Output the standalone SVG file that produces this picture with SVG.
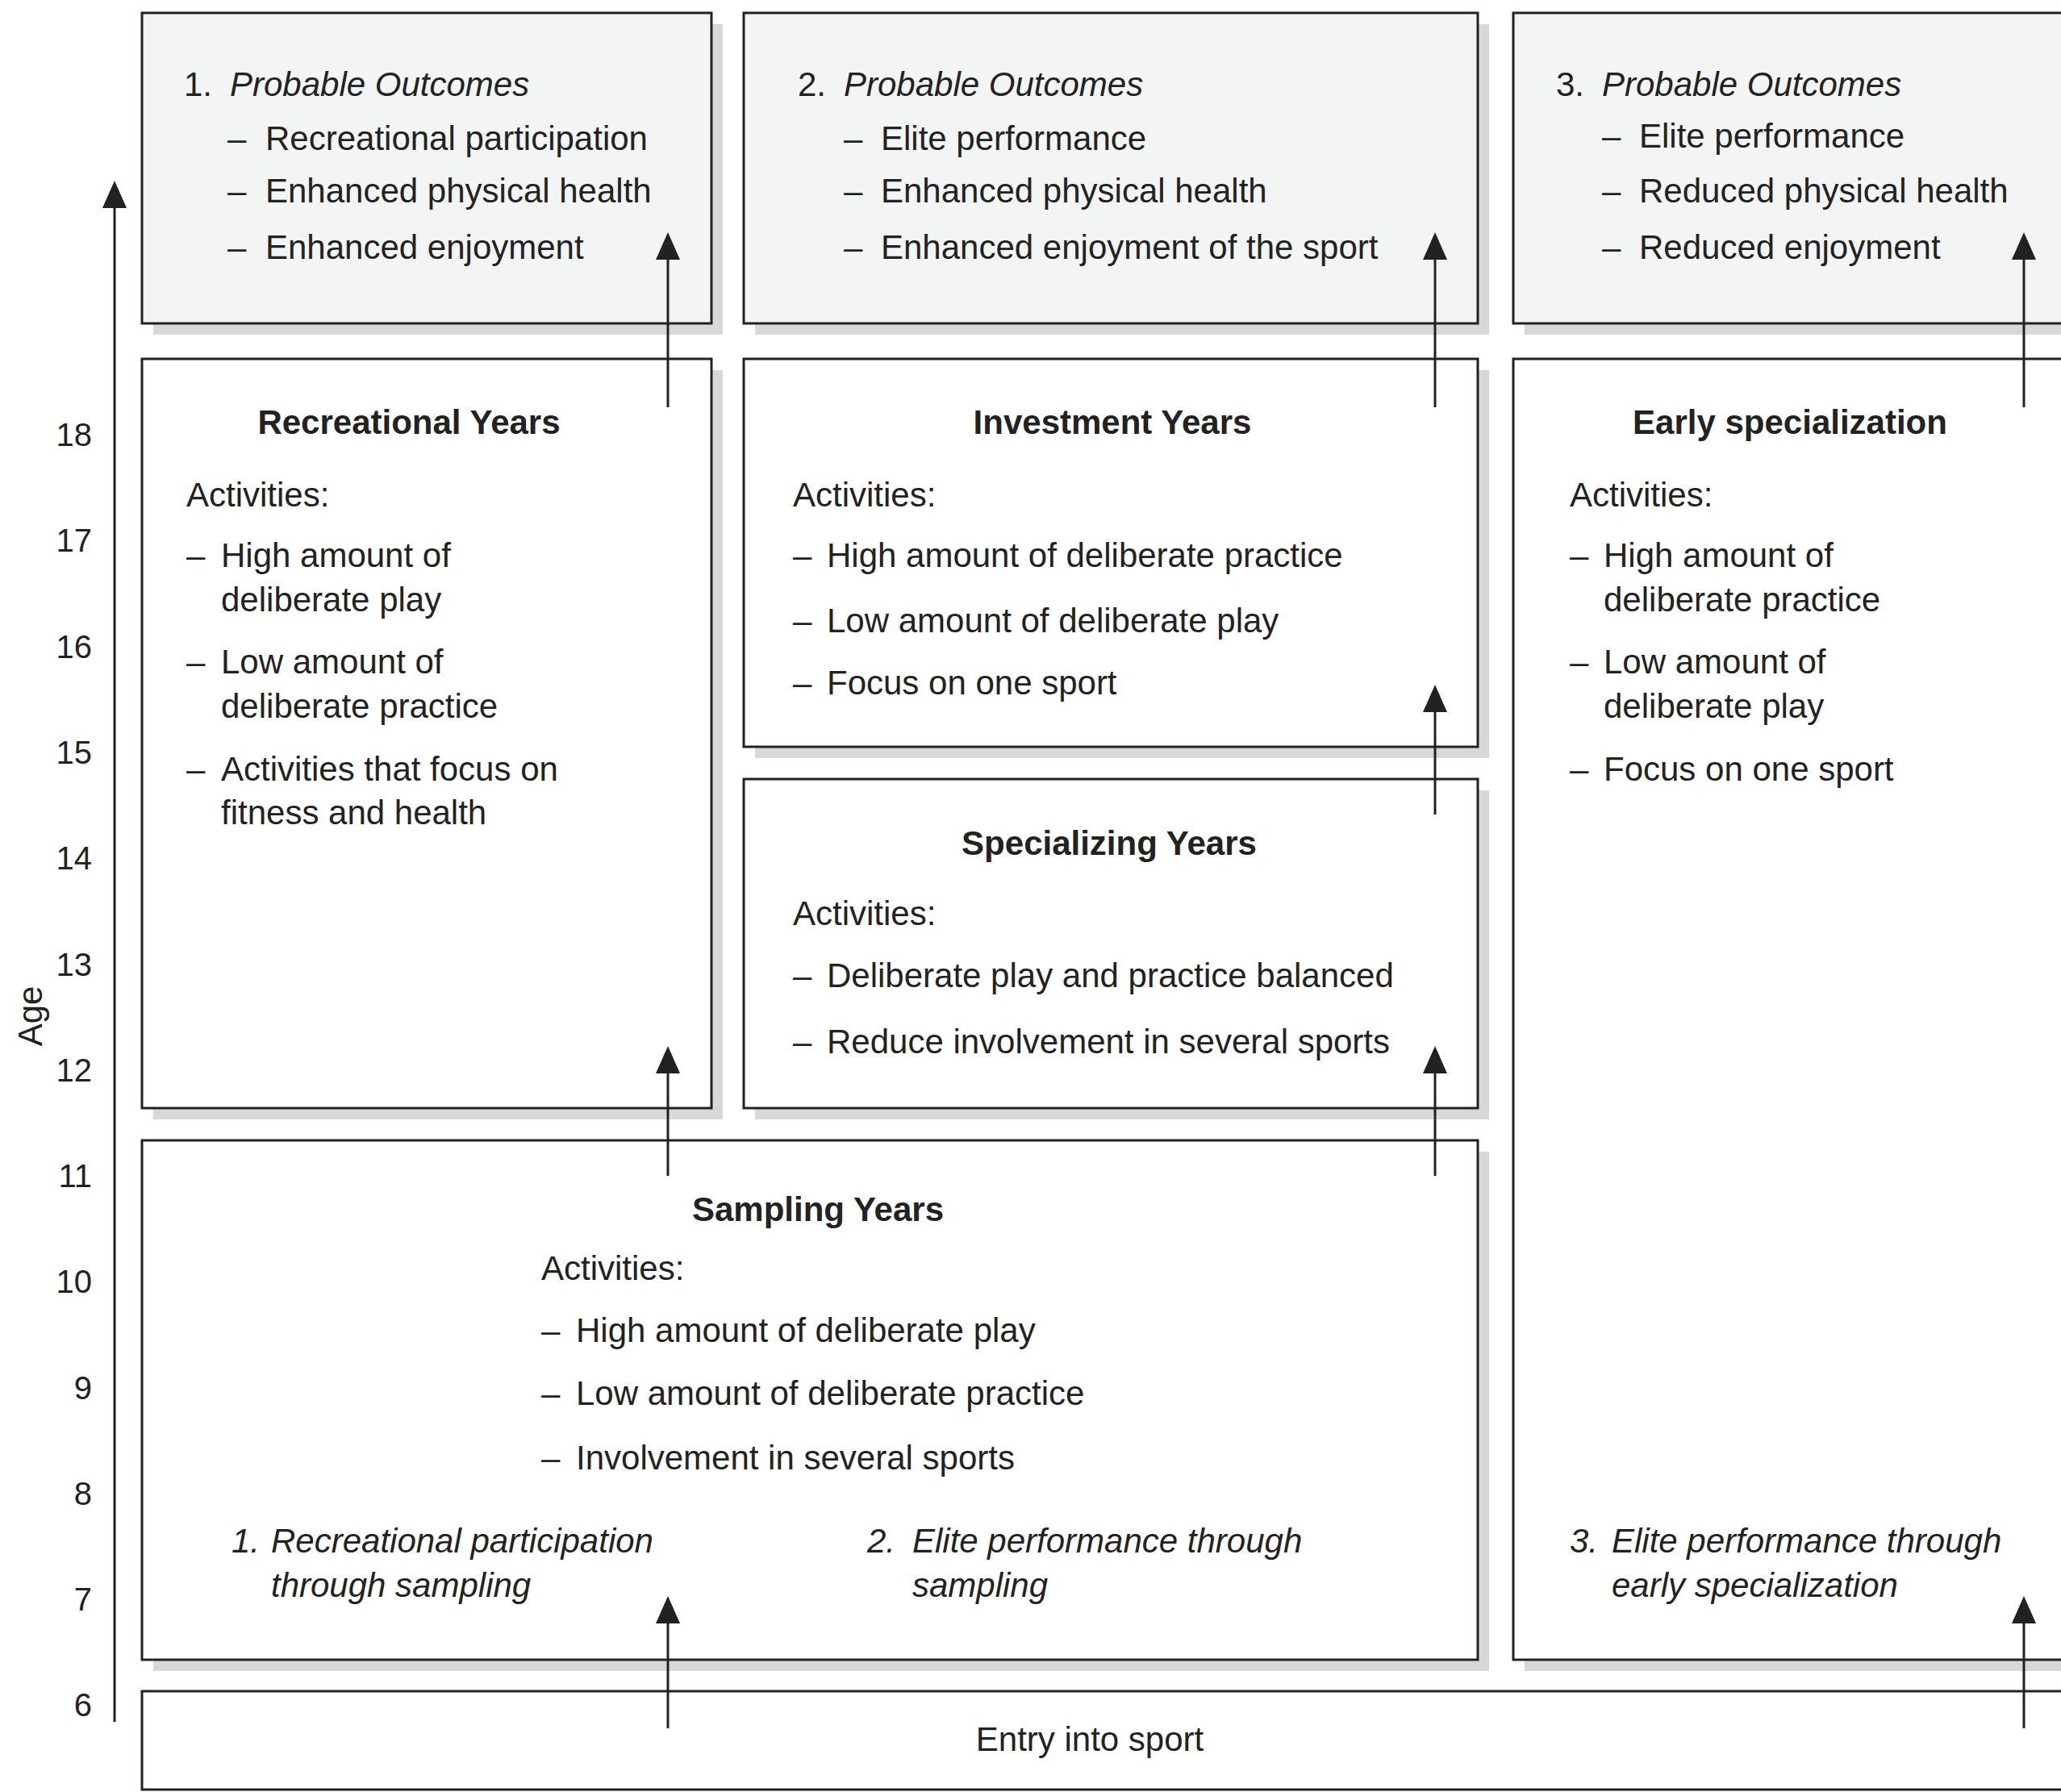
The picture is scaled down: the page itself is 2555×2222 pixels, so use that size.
<svg xmlns="http://www.w3.org/2000/svg" width="2555" height="2222" viewBox="0 0 2555 2222">
<style>
text{font-family:"Liberation Sans",Arial,sans-serif;font-size:42px;fill:#222}
.b{font-weight:bold}
.i{font-style:italic}
.m{text-anchor:middle}
.e{text-anchor:end}
.box{fill:#fff;stroke:#222;stroke-width:3}
.out{fill:#f3f4f4;stroke:#222;stroke-width:3}
.sh{fill:#d8d8d8}
.ar{stroke:#222;stroke-width:3;fill:none;marker-end:url(#ah)}
.num{font-size:40px}
</style>
<defs>
<marker id="ah" markerUnits="userSpaceOnUse" markerWidth="34" markerHeight="30" refX="0" refY="15" orient="auto" viewBox="0 0 34 30">
<path d="M0,0 L34,15 L0,30 Z" fill="#222"/>
</marker>
</defs>
<rect width="2555" height="2222" fill="#fff"/>

<g id="shadows">
<rect class="sh" x="190" y="30" width="706" height="385"/>
<rect class="sh" x="936" y="30" width="910" height="385"/>
<rect class="sh" x="1890" y="30" width="700" height="385"/>
<rect class="sh" x="190" y="459" width="706" height="929"/>
<rect class="sh" x="936" y="459" width="910" height="481"/>
<rect class="sh" x="936" y="980" width="910" height="408"/>
<rect class="sh" x="1890" y="459" width="700" height="1613"/>
<rect class="sh" x="190" y="1428" width="1656" height="644"/>
</g>

<g id="age-axis">
<text class="m" transform="translate(52,1260) rotate(-90)">Age</text>
<text class="e num" x="114" y="553">18</text>
<text class="e num" x="114" y="684">17</text>
<text class="e num" x="114" y="816">16</text>
<text class="e num" x="114" y="947">15</text>
<text class="e num" x="114" y="1078">14</text>
<text class="e num" x="114" y="1210">13</text>
<text class="e num" x="114" y="1341">12</text>
<text class="e num" x="114" y="1472">11</text>
<text class="e num" x="114" y="1603">10</text>
<text class="e num" x="114" y="1735">9</text>
<text class="e num" x="114" y="1866">8</text>
<text class="e num" x="114" y="1997">7</text>
<text class="e num" x="114" y="2128">6</text>
</g>

<g id="outcome1">
<rect class="out" x="176" y="16" width="706" height="385"/>
<text x="228" y="119">1.</text><text class="i" x="285" y="119">Probable Outcomes</text>
<text x="282" y="186">–</text><text x="329" y="186">Recreational participation</text>
<text x="282" y="251">–</text><text x="329" y="251">Enhanced physical health</text>
<text x="282" y="321">–</text><text x="329" y="321">Enhanced enjoyment</text>
</g>

<g id="outcome2">
<rect class="out" x="922" y="16" width="910" height="385"/>
<text x="989" y="119">2.</text><text class="i" x="1046" y="119">Probable Outcomes</text>
<text x="1046" y="186">–</text><text x="1092" y="186">Elite performance</text>
<text x="1046" y="251">–</text><text x="1092" y="251">Enhanced physical health</text>
<text x="1046" y="321">–</text><text x="1092" y="321">Enhanced enjoyment of the sport</text>
</g>

<g id="outcome3">
<rect class="out" x="1876" y="16" width="700" height="385"/>
<text x="1929" y="119">3.</text><text class="i" x="1986" y="119">Probable Outcomes</text>
<text x="1986" y="183">–</text><text x="2032" y="183">Elite performance</text>
<text x="1986" y="251">–</text><text x="2032" y="251">Reduced physical health</text>
<text x="1986" y="321">–</text><text x="2032" y="321">Reduced enjoyment</text>
</g>

<g id="recreational">
<rect class="box" x="176" y="445" width="706" height="929"/>
<text class="b m" x="507" y="538">Recreational Years</text>
<text x="231" y="628">Activities:</text>
<text x="231" y="703">–</text><text x="274" y="703">High amount of</text>
<text x="274" y="758">deliberate play</text>
<text x="231" y="835">–</text><text x="274" y="835">Low amount of</text>
<text x="274" y="890">deliberate practice</text>
<text x="231" y="968">–</text><text x="274" y="968">Activities that focus on</text>
<text x="274" y="1022">fitness and health</text>
</g>

<g id="investment">
<rect class="box" x="922" y="445" width="910" height="481"/>
<text class="b m" x="1379" y="538">Investment Years</text>
<text x="983" y="628">Activities:</text>
<text x="983" y="703">–</text><text x="1025" y="703">High amount of deliberate practice</text>
<text x="983" y="784">–</text><text x="1025" y="784">Low amount of deliberate play</text>
<text x="983" y="861">–</text><text x="1025" y="861">Focus on one sport</text>
</g>

<g id="specializing">
<rect class="box" x="922" y="966" width="910" height="408"/>
<text class="b m" x="1375" y="1060">Specializing Years</text>
<text x="983" y="1147">Activities:</text>
<text x="983" y="1224">–</text><text x="1025" y="1224">Deliberate play and practice balanced</text>
<text x="983" y="1306">–</text><text x="1025" y="1306">Reduce involvement in several sports</text>
</g>

<g id="early">
<rect class="box" x="1876" y="445" width="700" height="1613"/>
<text class="b m" x="2219" y="538">Early specialization</text>
<text x="1946" y="628">Activities:</text>
<text x="1946" y="703">–</text><text x="1988" y="703">High amount of</text>
<text x="1988" y="758">deliberate practice</text>
<text x="1946" y="835">–</text><text x="1988" y="835">Low amount of</text>
<text x="1988" y="890">deliberate play</text>
<text x="1946" y="968">–</text><text x="1988" y="968">Focus on one sport</text>
<text class="i" x="1946" y="1925">3.</text><text class="i" x="1998" y="1925">Elite performance through</text>
<text class="i" x="1998" y="1980">early specialization</text>
</g>

<g id="sampling">
<rect class="box" x="176" y="1414" width="1656" height="644"/>
<text class="b m" x="1014" y="1514">Sampling Years</text>
<text x="671" y="1587">Activities:</text>
<text x="671" y="1664">–</text><text x="714" y="1664">High amount of deliberate play</text>
<text x="671" y="1742">–</text><text x="714" y="1742">Low amount of deliberate practice</text>
<text x="671" y="1822">–</text><text x="714" y="1822">Involvement in several sports</text>
<text class="i" x="287" y="1925">1.</text><text class="i" x="336" y="1925">Recreational participation</text>
<text class="i" x="336" y="1980">through sampling</text>
<text class="i" x="1075" y="1925">2.</text><text class="i" x="1131" y="1925">Elite performance through</text>
<text class="i" x="1131" y="1980">sampling</text>
</g>

<g id="entry">
<rect class="box" x="176" y="2097" width="2400" height="122"/>
<text class="m" x="1351" y="2171">Entry into sport</text>
</g>

<g id="connectors">
<line class="ar" x1="142" y1="2135" x2="142" y2="258"/>
<line class="ar" x1="828" y1="505" x2="828" y2="322"/>
<line class="ar" x1="1779" y1="505" x2="1779" y2="322"/>
<line class="ar" x1="2509" y1="505" x2="2509" y2="322"/>
<line class="ar" x1="1779" y1="1010" x2="1779" y2="883"/>
<line class="ar" x1="828" y1="1458" x2="828" y2="1331"/>
<line class="ar" x1="1779" y1="1458" x2="1779" y2="1331"/>
<line class="ar" x1="828" y1="2143" x2="828" y2="2013"/>
<line class="ar" x1="2509" y1="2143" x2="2509" y2="2013"/>
</g>
</svg>
